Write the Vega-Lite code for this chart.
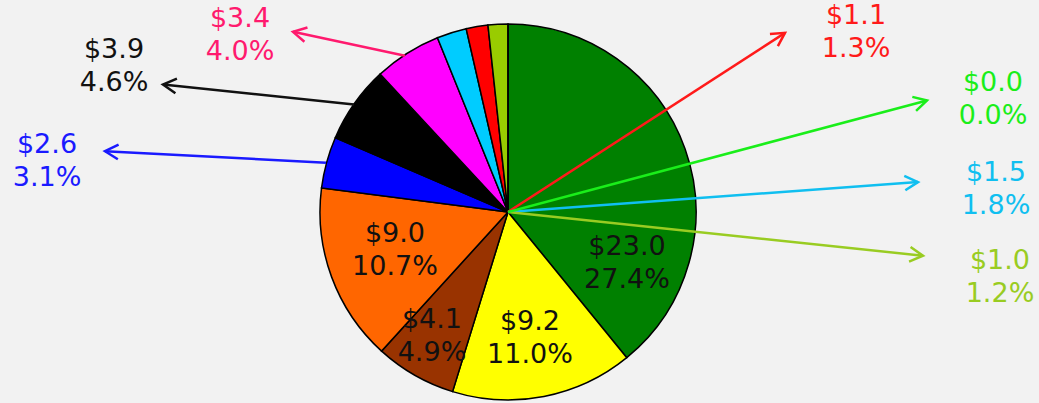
{
  "$schema": "https://vega.github.io/schema/vega-lite/v6.json",
  "width": 1039,
  "height": 403,
  "autosize": {"type": "fit", "contains": "padding"},
  "padding": 0,
  "background": "#f2f2f2",
  "config": {"view": {"stroke": null}},
  "datasets": {
    "slices": [
      {"slice": "A", "value": 23.0, "ord": 1, "txt": "$23.0\n27.4%", "lx": 0.6330, "ly": -0.2766},
      {"slice": "B", "value": 9.2, "ord": 2, "txt": "$9.2\n11.0%", "lx": 0.1170, "ly": -0.6755},
      {"slice": "C", "value": 4.1, "ord": 3, "txt": "$4.1\n4.9%", "lx": -0.4043, "ly": -0.6649},
      {"slice": "D", "value": 9.0, "ord": 4, "txt": "$9.0\n10.7%", "lx": -0.6011, "ly": -0.2074},
      {"slice": "E", "value": 2.6, "ord": 5, "txt": "$2.6\n3.1%", "lx": -2.4521, "ly": 0.2713, "tx": -0.9681, "ty": 0.2633, "hx": -2.1436, "hy": 0.3245},
      {"slice": "F", "value": 3.9, "ord": 6, "txt": "$3.9\n4.6%", "lx": -2.0957, "ly": 0.7766, "tx": -0.8191, "ty": 0.5745, "hx": -1.8351, "hy": 0.6809},
      {"slice": "G", "value": 3.4, "ord": 7, "txt": "$3.4\n4.0%", "lx": -1.4255, "ly": 0.9415, "tx": -0.5479, "ty": 0.8351, "hx": -1.1436, "hy": 0.9628},
      {"slice": "H", "value": 1.5, "ord": 8, "txt": "$1.5\n1.8%", "lx": 2.5957, "ly": 0.1223, "tx": 0, "ty": 0, "hx": 2.1809, "hy": 0.1596},
      {"slice": "I", "value": 1.1, "ord": 9, "txt": "$1.1\n1.3%", "lx": 1.8511, "ly": 0.9574, "tx": 0, "ty": 0, "hx": 1.4734, "hy": 0.9574},
      {"slice": "J", "value": 1.0, "ord": 10, "txt": "$1.0\n1.2%", "lx": 2.6170, "ly": -0.3511, "tx": 0, "ty": 0, "hx": 2.2074, "hy": -0.2340},
      {"slice": "K", "value": 0.0, "ord": 11, "txt": "$0.0\n0.0%", "lx": 2.5798, "ly": 0.6011, "tx": 0, "ty": 0, "hx": 2.2287, "hy": 0.5957}
    ]
  },
  "layer": [
    {
      "data": {"name": "slices"},
      "mark": {"type": "arc", "radius": 188, "stroke": "#000000", "strokeWidth": 1.5},
      "encoding": {
        "x": {"datum": 0, "type": "quantitative", "scale": {"domain": [-2.7021, 2.8245], "nice": false, "zero": false}, "axis": null},
        "y": {"datum": 0, "type": "quantitative", "scale": {"domain": [-1.0106, 1.1330], "nice": false, "zero": false}, "axis": null},
        "theta": {"field": "value", "type": "quantitative", "stack": true},
        "order": {"field": "ord", "type": "quantitative"},
        "fill": {"field": "slice", "type": "nominal", "legend": null,
          "scale": {"domain": ["A","B","C","D","E","F","G","H","I","J","K"],
                    "range": ["#008000","#ffff00","#993300","#ff6600","#0000ff","#000000","#ff00ff","#00ccff","#ff0000","#99cc00","#00ff00"]}}
      }
    },
    {
      "data": {"name": "slices"},
      "transform": [{"filter": "isValid(datum.hx)"}],
      "mark": {"type": "rule", "strokeWidth": 2.5},
      "encoding": {
        "x": {"field": "tx", "type": "quantitative", "scale": {"domain": [-2.7021, 2.8245], "nice": false, "zero": false}, "axis": null},
        "y": {"field": "ty", "type": "quantitative", "scale": {"domain": [-1.0106, 1.1330], "nice": false, "zero": false}, "axis": null},
        "x2": {"field": "hx"},
        "y2": {"field": "hy"},
        "color": {"field": "slice", "type": "nominal", "legend": null,
          "scale": {"domain": ["A","B","C","D","E","F","G","H","I","J","K"],
                    "range": ["#111111","#111111","#111111","#111111","#1a1aff","#111111","#ff1a6e","#10bff0","#ff1a1a","#99cc22","#1aee1a"]}}
      }
    },
    {
      "data": {"name": "slices"},
      "transform": [
        {"filter": "isValid(datum.hx)"},
        {"calculate": "atan2(datum.hx - datum.tx, datum.hy - datum.ty) * 180 / PI", "as": "ang"}
      ],
      "mark": {"type": "point", "shape": "M-0.55,1L0,0L0.55,1", "size": 700, "strokeWidth": 2.5, "filled": false, "opacity": 1},
      "encoding": {
        "x": {"field": "hx", "type": "quantitative", "scale": {"domain": [-2.7021, 2.8245], "nice": false, "zero": false}, "axis": null},
        "y": {"field": "hy", "type": "quantitative", "scale": {"domain": [-1.0106, 1.1330], "nice": false, "zero": false}, "axis": null},
        "angle": {"field": "ang", "type": "quantitative", "scale": null},
        "color": {"field": "slice", "type": "nominal", "legend": null,
          "scale": {"domain": ["A","B","C","D","E","F","G","H","I","J","K"],
                    "range": ["#111111","#111111","#111111","#111111","#1a1aff","#111111","#ff1a6e","#10bff0","#ff1a1a","#99cc22","#1aee1a"]}}
      }
    },
    {
      "data": {"name": "slices"},
      "mark": {"type": "text", "font": "DejaVu Sans", "fontSize": 27, "lineBreak": "\n", "lineHeight": 33, "align": "center", "baseline": "middle", "letterSpacing": 1.5, "dy": -16.5},
      "encoding": {
        "x": {"field": "lx", "type": "quantitative", "scale": {"domain": [-2.7021, 2.8245], "nice": false, "zero": false}, "axis": null},
        "y": {"field": "ly", "type": "quantitative", "scale": {"domain": [-1.0106, 1.1330], "nice": false, "zero": false}, "axis": null},
        "text": {"field": "txt"},
        "color": {"field": "slice", "type": "nominal", "legend": null,
          "scale": {"domain": ["A","B","C","D","E","F","G","H","I","J","K"],
                    "range": ["#111111","#111111","#111111","#111111","#1a1aff","#111111","#ff1a6e","#10bff0","#ff1a1a","#99cc33","#1aee1a"]}}
      }
    }
  ]
}
